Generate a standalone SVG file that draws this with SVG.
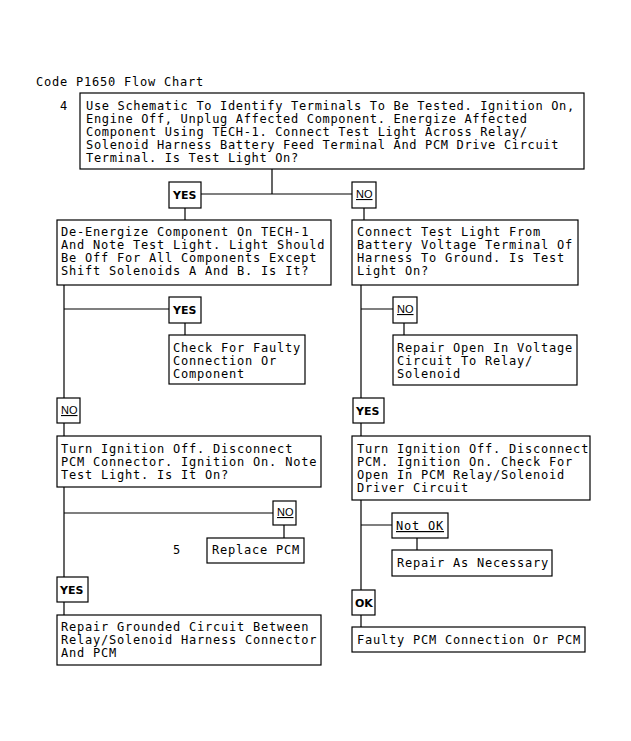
<svg xmlns="http://www.w3.org/2000/svg" width="631" height="741" viewBox="0 0 631 741">
<style>
.t{font-family:"DejaVu Sans Mono","Liberation Mono",monospace;font-size:12px;letter-spacing:0.78px;fill:#000}
.tt{font-family:"DejaVu Sans Mono","Liberation Mono",monospace;font-size:12px;letter-spacing:0.66px;fill:#000}
.b{fill:#fff;stroke:#000;stroke-width:1.2}
.c{fill:none;stroke:#000;stroke-width:1.2}
.y{font-family:"DejaVu Sans","Liberation Sans",sans-serif;font-size:11px;font-weight:bold;fill:#000}
.n{font-family:"Liberation Sans","DejaVu Sans",sans-serif;font-size:11px;fill:#000;text-decoration:underline}
.nm{font-family:"DejaVu Sans Mono","Liberation Mono",monospace;font-size:12px;letter-spacing:0.78px;fill:#000;text-decoration:underline}
</style>
<rect width="631" height="741" fill="#fff"/>
<text class="t" x="36" y="86">Code P1650 Flow Chart</text>
<g id="connectors">
<path class="c" d="M272 169V194M201 194H352M185 208V220M364 208V220"/>
<path class="c" d="M64 285V398M64 309H170M185 323V335M64 423V436"/>
<path class="c" d="M361 285V398M361 309H393M404 323V335M361 423V436"/>
<path class="c" d="M64 487V577M64 513H273M284 525V538M64 602V615"/>
<path class="c" d="M361 500V590M361 525H392M417 538V550M361 615V627"/>
</g>
<g id="n1">
<text class="t" x="60" y="110">4</text>
<rect class="b" x="80" y="93" width="504" height="76"/>
<text class="tt" x="86" y="110">Use Schematic To Identify Terminals To Be Tested. Ignition On,</text>
<text class="tt" x="86" y="123">Engine Off, Unplug Affected Component. Energize Affected</text>
<text class="tt" x="86" y="136">Component Using TECH-1. Connect Test Light Across Relay/</text>
<text class="tt" x="86" y="149">Solenoid Harness Battery Feed Terminal And PCM Drive Circuit</text>
<text class="tt" x="86" y="162">Terminal. Is Test Light On?</text>
</g>
<g id="yes1"><rect class="b" x="169" y="182" width="32" height="26"/><text class="y" x="173" y="199">YES</text></g>
<g id="no1"><rect class="b" x="352" y="182" width="24" height="26"/><text class="n" x="356" y="198">NO</text></g>
<g id="n2">
<rect class="b" x="57" y="220" width="274" height="65"/>
<text class="t" x="61" y="236">De-Energize Component On TECH-1</text>
<text class="t" x="61" y="249">And Note Test Light. Light Should</text>
<text class="t" x="61" y="262">Be Off For All Components Except</text>
<text class="t" x="61" y="275">Shift Solenoids A And B. Is It?</text>
</g>
<g id="n3">
<rect class="b" x="352" y="220" width="226" height="65"/>
<text class="t" x="357" y="236">Connect Test Light From</text>
<text class="t" x="357" y="249">Battery Voltage Terminal Of</text>
<text class="t" x="357" y="262">Harness To Ground. Is Test</text>
<text class="t" x="357" y="275">Light On?</text>
</g>
<g id="yes2"><rect class="b" x="169" y="297" width="32" height="26"/><text class="y" x="173" y="314">YES</text></g>
<g id="n4">
<rect class="b" x="169" y="335" width="136" height="49"/>
<text class="t" x="173" y="352">Check For Faulty</text>
<text class="t" x="173" y="365">Connection Or</text>
<text class="t" x="173" y="378">Component</text>
</g>
<g id="no2"><rect class="b" x="393" y="297" width="24" height="26"/><text class="n" x="397" y="313">NO</text></g>
<g id="n5">
<rect class="b" x="393" y="335" width="184" height="50"/>
<text class="t" x="397" y="352">Repair Open In Voltage</text>
<text class="t" x="397" y="365">Circuit To Relay/</text>
<text class="t" x="397" y="378">Solenoid</text>
</g>
<g id="no3"><rect class="b" x="57" y="398" width="23" height="25"/><text class="n" x="61" y="414">NO</text></g>
<g id="yes3"><rect class="b" x="353" y="398" width="31" height="25"/><text class="y" x="356" y="415">YES</text></g>
<g id="n6">
<rect class="b" x="57" y="436" width="264" height="51"/>
<text class="t" x="61" y="453">Turn Ignition Off. Disconnect</text>
<text class="t" x="61" y="466">PCM Connector. Ignition On. Note</text>
<text class="t" x="61" y="479">Test Light. Is It On?</text>
</g>
<g id="n7">
<rect class="b" x="352" y="436" width="238" height="64"/>
<text class="t" x="357" y="453">Turn Ignition Off. Disconnect</text>
<text class="t" x="357" y="466">PCM. Ignition On. Check For</text>
<text class="t" x="357" y="479">Open In PCM Relay/Solenoid</text>
<text class="t" x="357" y="492">Driver Circuit</text>
</g>
<g id="no4"><rect class="b" x="273" y="501" width="23" height="24"/><text class="n" x="277" y="516">NO</text></g>
<g id="n8">
<text class="t" x="173" y="554">5</text>
<rect class="b" x="207" y="538" width="97" height="25"/>
<text class="t" x="212" y="554">Replace PCM</text>
</g>
<g id="notok"><rect class="b" x="392" y="513" width="56" height="25"/><text class="nm" x="396" y="530">Not OK</text></g>
<g id="n9">
<rect class="b" x="392" y="550" width="160" height="26"/>
<text class="t" x="397" y="567">Repair As Necessary</text>
</g>
<g id="yes4"><rect class="b" x="57" y="577" width="31" height="25"/><text class="y" x="60" y="594">YES</text></g>
<g id="n10">
<rect class="b" x="57" y="615" width="264" height="50"/>
<text class="t" x="61" y="631">Repair Grounded Circuit Between</text>
<text class="t" x="61" y="644">Relay/Solenoid Harness Connector</text>
<text class="t" x="61" y="657">And PCM</text>
</g>
<g id="ok"><rect class="b" x="352" y="590" width="23" height="25"/><text class="y" x="355" y="607">OK</text></g>
<g id="n11">
<rect class="b" x="352" y="627" width="233" height="25"/>
<text class="t" x="357" y="644">Faulty PCM Connection Or PCM</text>
</g>
</svg>
